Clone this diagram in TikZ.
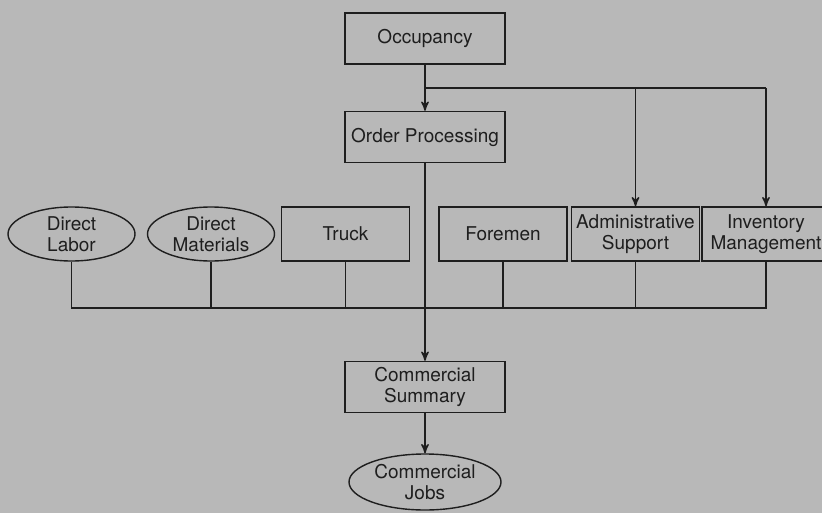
\documentclass[tikz,border=0pt]{standalone}
\usepackage{fontspec}
\setmainfont{TeX Gyre Heros}
\usetikzlibrary{arrows,shapes,positioning}
\definecolor{paper}{RGB}{184,184,184}
\definecolor{ink}{RGB}{30,30,30}

\begin{document}
\begin{tikzpicture}[x=0.5pt,y=-0.5pt,->,>=stealth',line width=0.7pt,color=ink,
  box/.style={draw,rectangle,minimum width=64pt,minimum height=27pt,inner sep=1pt,align=center,font=\fontsize{9.5}{10.5}\selectfont},
  wide/.style={box,minimum width=80pt,minimum height=25.5pt},
  oval/.style={draw,ellipse,minimum width=63.5pt,minimum height=27pt,inner sep=0pt,align=center,font=\fontsize{9.5}{10.5}\selectfont}]
  \clip (0,0) rectangle (822,513);
  \fill[paper] (0,0) rectangle (822,513);
			 \node[wide]	(A) at (425,38.5) {Occupancy};
			 \node[wide]	(B) [below of=A, node distance=49.25pt] {Order Processing};
			 \node[oval]	(C) at (71.5,234) {Direct\\Labor};
			 \node[oval]	(D) at (211,234) {Direct\\Materials};
			 \node[box]		(E) at (345.5,234) {Truck};
			 \node[box]		(F) at (503,234) {Foremen};
			 \node[box]		(G) at (635.5,234) {Administrative\\Support};
			 \node[box]		(H) at (766,234) {Inventory\\Management};
			 \node[wide]	(I) [below of=B, node distance=125pt] {Commercial\\Summary};
			 \node[oval,minimum width=76pt,minimum height=28pt] (J) [below of=I, node distance=47.5pt] {Commercial\\Jobs};
			 \coordinate (fork) at (0,88);
			 \coordinate (bus) at (0,308);
			 \path
			 (A) edge node{} (B)
			 (B) edge node{} (I)
			 (I) edge node{} (J)
			 (G.north |- fork) edge node{} (G)
			 (H.north |- fork) edge node{} (H);
			 \draw[-] (A.south |- fork) -- (H.north |- fork);
			 \draw[-] (C.south) -- (C.south |- bus) -- (H.south |- bus) -- (H.south);
			 \foreach \n in {D,E,F,G}
			 	\draw[-] (\n.south) -- (\n.south |- bus);
 			 \end{tikzpicture}
\end{document}
